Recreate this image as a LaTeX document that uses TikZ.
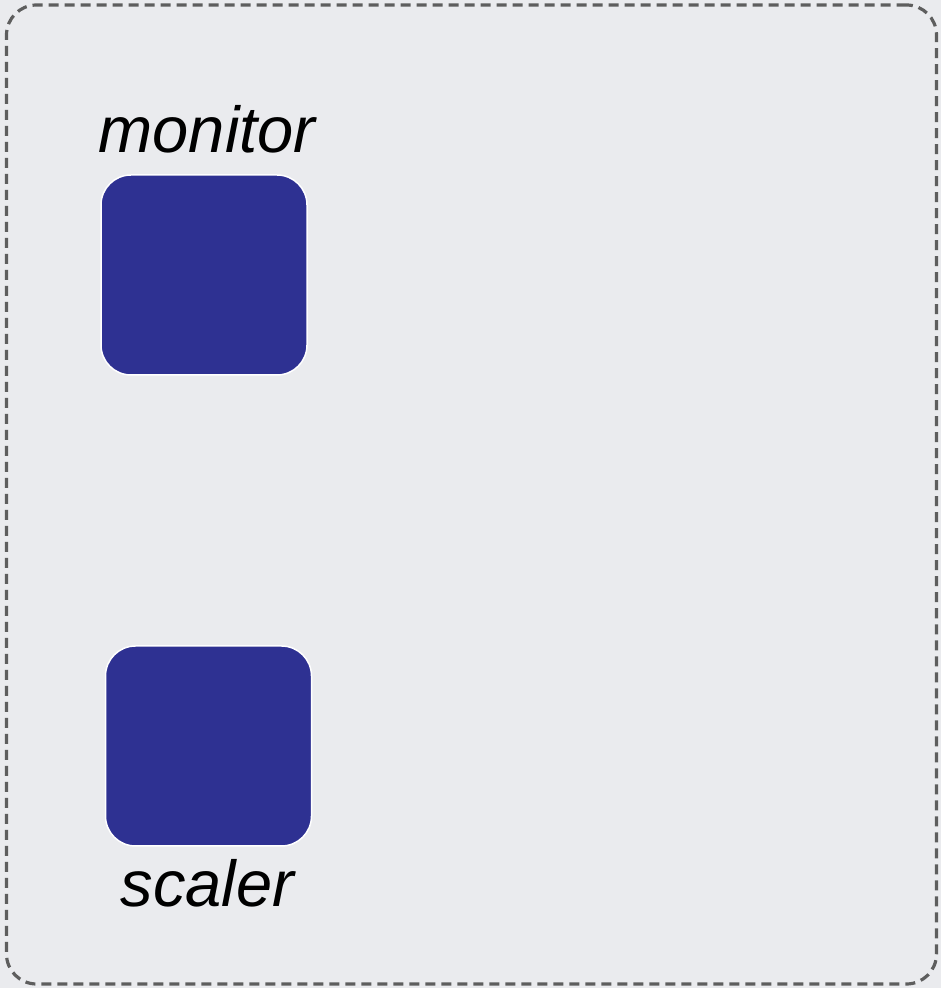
\documentclass[tikz,border=0pt]{standalone}
\usepackage{fontspec}
\setmainfont{Liberation Sans}
\definecolor{bgc}{HTML}{EAEBEE}
\definecolor{boxc}{HTML}{2E3192}
\definecolor{dashc}{HTML}{5E5E5E}
\begin{document}
\begin{tikzpicture}[x=1pt,y=1pt,
  comp/.style={fill=boxc,draw=white,line width=1.5pt,rounded corners=30pt,minimum width=206pt,minimum height=200pt,inner sep=0pt},
  lbl/.style={font=\fontsize{65}{74}\selectfont\itshape,inner sep=0pt,text=black}]
\fill[bgc] (0,0) rectangle (941,988);
\useasboundingbox (0,0) rectangle (941,988);
\node[draw=dashc,line width=3.2pt,dash pattern=on 10pt off 6pt,rounded corners=30pt,minimum width=930pt,minimum height=979pt,inner sep=0pt] (frame) at (471.5,493.5) {};
\node[comp] (monitor) at (204,713) {};
\node[comp] (scaler) at (208.5,242) {};
\node[lbl,anchor=base] (mlabel) at (207,835) {monitor};
\node[lbl,anchor=base] (slabel) at (207.5,81) {scaler};
\end{tikzpicture}
\end{document}
